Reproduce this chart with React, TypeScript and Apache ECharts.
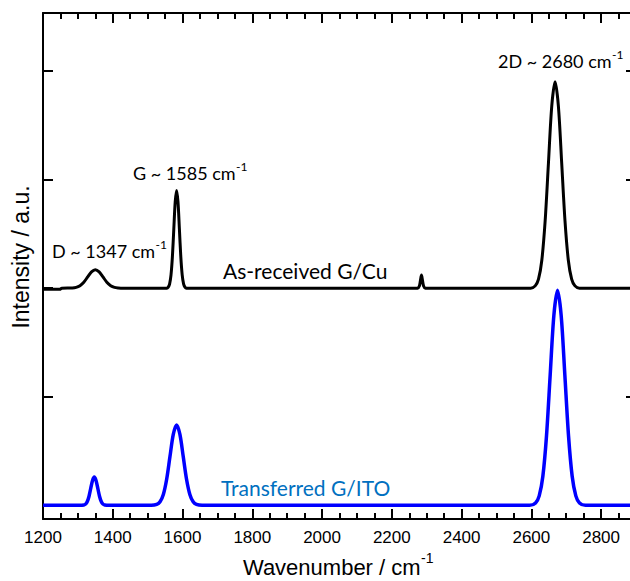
import React, { useEffect, useRef } from "react";
import * as echarts from "echarts";

// Axis ranges / ticks
const X_MIN = 1200;
const X_MAX = 2900;
const Y_MIN = -0.126;
const Y_MAX = 4.534;
const majorTicksX = [1200, 1400, 1600, 1800, 2000, 2200, 2400, 2600, 2800];
const minorTicksX = [
  1250, 1300, 1350, 1450, 1500, 1550, 1650, 1700, 1750, 1850, 1900, 1950,
  2050, 2100, 2150, 2250, 2300, 2350, 2450, 2500, 2550, 2650, 2700, 2750, 2850,
];
const yTicks = [0, 1, 2, 3, 4];

// As-received G/Cu (offset by 2)
const asReceived: [number, number][] = [
  [1200, 1.99], [1248, 1.99], [1254, 2.0], [1284, 2.002], [1295, 2.007], [1306, 2.023],
  [1317, 2.055], [1328, 2.103], [1339, 2.15], [1350, 2.17], [1361, 2.15], [1372, 2.103],
  [1383, 2.055], [1394, 2.023], [1405, 2.007], [1416, 2.002], [1430, 2.0],
  [1555, 2.0], [1559, 2.01], [1563, 2.04], [1567, 2.122], [1571, 2.292], [1575, 2.546],
  [1579, 2.794], [1583, 2.9], [1587, 2.794], [1591, 2.546], [1595, 2.292], [1599, 2.122],
  [1603, 2.04], [1607, 2.01], [1611, 2.0],
  [2274, 2.0], [2279, 2.02], [2282, 2.07], [2285, 2.12], [2288, 2.07], [2291, 2.02], [2296, 2.0],
  [2598, 2.0], [2611, 2.021], [2620.5, 2.083], [2630, 2.257], [2639.5, 2.617], [2649, 3.152],
  [2658.5, 3.677], [2668, 3.9], [2677.5, 3.677], [2687, 3.152], [2696.5, 2.617], [2706, 2.257],
  [2715.5, 2.083], [2725, 2.021], [2738, 2.0], [2900, 2.0],
];

// Transferred G/ITO
const transferred: [number, number][] = [
  [1200, 0], [1305, 0], [1317, 0.003], [1322, 0.011], [1327, 0.035], [1332, 0.084],
  [1337, 0.158], [1342, 0.229], [1347, 0.26], [1352, 0.229], [1357, 0.158], [1362, 0.084],
  [1367, 0.035], [1372, 0.011], [1377, 0.003], [1390, 0],
  [1510, 0], [1526, 0.008], [1535.5, 0.0325], [1545, 0.1], [1554.5, 0.24], [1564, 0.449],
  [1573.5, 0.653], [1583, 0.74], [1592.5, 0.653], [1602, 0.449], [1611.5, 0.24], [1621, 0.1],
  [1630.5, 0.0325], [1640, 0.008], [1656, 0],
  [2595, 0], [2612, 0.022], [2622.5, 0.087], [2633, 0.268], [2643.5, 0.643], [2654, 1.201],
  [2664.5, 1.747], [2675, 1.98], [2685.5, 1.747], [2696, 1.201], [2706.5, 0.643], [2717, 0.268],
  [2727.5, 0.087], [2738, 0.022], [2755, 0], [2900, 0],
];

const ARIAL = '"Liberation Sans", Arial, sans-serif';
const LABEL_FONT = 'Lato, "Open Sans", sans-serif';

const axisLineStyle = { color: "#000", width: 2 };

let measureCtx: CanvasRenderingContext2D | null = null;
function textWidth(text: string, size: number, family: string): number {
  if (!measureCtx) measureCtx = document.createElement("canvas").getContext("2d");
  if (!measureCtx) return text.length * size * 0.5;
  measureCtx.font = `${size}px ${family}`;
  return measureCtx.measureText(text).width;
}

function xAxis(position: "top" | "bottom", major: boolean) {
  return {
    type: "value",
    min: X_MIN,
    max: X_MAX,
    position,
    splitLine: { show: false },
    axisLine: { show: major, onZero: false, lineStyle: axisLineStyle },
    axisTick: {
      show: true,
      inside: true,
      length: major ? 10 : 6,
      customValues: major ? majorTicksX : minorTicksX,
      lineStyle: { color: "#000", width: 2 },
    },
    axisLabel:
      major && position === "bottom"
        ? {
            show: true,
            customValues: majorTicksX,
            formatter: (v: number) => String(v),
            margin: 10,
            color: "#000",
            fontSize: 17,
            fontFamily: ARIAL,
          }
        : { show: false },
  };
}

function yAxis(position: "left" | "right") {
  return {
    type: "value",
    min: Y_MIN,
    max: Y_MAX,
    position,
    splitLine: { show: false },
    axisLine: { show: true, onZero: false, lineStyle: axisLineStyle },
    axisTick: {
      show: true,
      inside: true,
      length: 10,
      customValues: yTicks,
      lineStyle: { color: "#000", width: 2 },
    },
    axisLabel: { show: false },
  };
}

function supText(
  x: number,
  y: number,
  main: string,
  size: number,
  supSize: number,
  supRise: number,
  family: string,
  fill: string
) {
  const w = textWidth(main, size, family);
  return [
    {
      type: "text",
      x,
      y,
      style: { text: main, fontSize: size, fontFamily: family, fill, align: "left", verticalAlign: "middle" },
    },
    {
      type: "text",
      x: x + w + 0.5,
      y: y - supRise,
      style: { text: "-1", fontSize: supSize, fontFamily: family, fill, align: "left", verticalAlign: "middle" },
    },
  ];
}

export default function App() {
  const ref = useRef<HTMLDivElement>(null);
  useEffect(() => {
    const chart = echarts.init(ref.current!, null, { renderer: "svg" });

    const xTitle = "Wavenumber / cm";
    const xTitleW = textWidth(xTitle, 22, ARIAL) + textWidth("-1", 14, ARIAL);
    const xTitleLeft = 338 - xTitleW / 2;

    chart.setOption({
      animation: false,
      backgroundColor: "#fff",
      grid: { left: 43, right: 4, top: 13, bottom: 62, containLabel: false },
      xAxis: [xAxis("bottom", true), xAxis("bottom", false), xAxis("top", true), xAxis("top", false)],
      yAxis: [yAxis("left"), yAxis("right")],
      series: [
        {
          name: "As-received G/Cu",
          type: "line",
          data: asReceived,
          xAxisIndex: 0,
          yAxisIndex: 0,
          showSymbol: false,
          symbol: "none",
          smooth: 0.3,
          lineStyle: { color: "#000", width: 3 },
        },
        {
          name: "Transferred G/ITO",
          type: "line",
          data: transferred,
          xAxisIndex: 0,
          yAxisIndex: 0,
          showSymbol: false,
          symbol: "none",
          smooth: 0.3,
          lineStyle: { color: "#0000ff", width: 3.5 },
        },
      ],
      graphic: [
        {
          type: "text",
          x: 21,
          y: 257,
          rotation: Math.PI / 2,
          style: {
            text: "Intensity / a.u.",
            fontSize: 23,
            fontFamily: ARIAL,
            fill: "#000",
            align: "center",
            verticalAlign: "middle",
          },
        },
        ...supText(xTitleLeft, 567, xTitle, 22, 14, 9, ARIAL, "#000"),
        ...supText(52, 251, "D ~ 1347 cm", 18, 12, 6.5, LABEL_FONT, "#000"),
        ...supText(133, 173, "G ~ 1585 cm", 18, 12, 6.5, LABEL_FONT, "#000"),
        ...supText(498, 61, "2D ~ 2680 cm", 18, 12, 6.5, LABEL_FONT, "#000"),
        {
          type: "text",
          x: 223,
          y: 270,
          style: {
            text: "As-received G/Cu",
            fontSize: 21,
            fontFamily: LABEL_FONT,
            fill: "#000",
            align: "left",
            verticalAlign: "middle",
          },
        },
        {
          type: "text",
          x: 221,
          y: 487,
          style: {
            text: "Transferred G/ITO",
            fontSize: 21,
            fontFamily: LABEL_FONT,
            fill: "#0070c0",
            align: "left",
            verticalAlign: "middle",
          },
        },
      ],
    });
    return () => chart.dispose();
  }, []);
  return (
    <div
      style={{
        position: "fixed",
        left: 0,
        top: 0,
        width: 630,
        height: 581,
        overflow: "hidden",
        background: "#fff",
      }}
    >
      <div ref={ref} style={{ width: 640, height: 581 }} />
    </div>
  );
}
